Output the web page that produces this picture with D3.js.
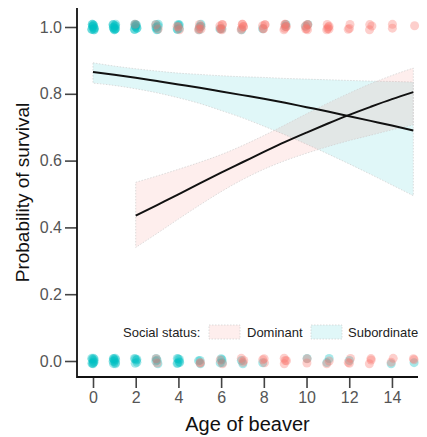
<!DOCTYPE html>
<html>
<head>
<meta charset="utf-8">
<script src="https://cdn.jsdelivr.net/npm/d3@7/dist/d3.min.js"></script>
<style>
  html, body { margin: 0; padding: 0; background: #fff; }
  svg { display: block; font-family: "Liberation Sans", Arial, sans-serif; }
</style>
</head>
<body>
<svg id="chart" width="427" height="437"></svg>
<script>
// Ages on the x axis
const ages = [0, 1, 2, 3, 4, 5, 6, 7, 8, 9, 10, 11, 12, 13, 14, 15];

// Number of beavers observed at each age, by outcome and social status
const survivedSub = [12, 12, 10, 7, 6, 4, 2, 1, 1, 2, 2, 0, 0, 0, 0, 0];
const survivedDom = [0, 0, 1, 2, 3, 5, 6, 6, 5, 6, 6, 6, 3, 3, 2, 1];
const diedSub     = [10, 10, 6, 4, 7, 3, 4, 2, 1, 0, 1, 2, 1, 0, 1, 1];
const diedDom     = [0, 0, 0, 2, 0, 2, 2, 3, 3, 4, 2, 2, 3, 3, 2, 2];

// Fitted survival probability with 95% confidence band, dominant (ages 2-15)
const domAges  = [2, 3, 4, 5, 6, 7, 8, 9, 10, 11, 12, 13, 14, 15];
const domFit   = [0.435, 0.467, 0.499, 0.532, 0.564, 0.595, 0.626, 0.656, 0.684, 0.711, 0.737, 0.761, 0.784, 0.805];
const domLower = [0.340, 0.382, 0.425, 0.467, 0.507, 0.543, 0.574, 0.600, 0.622, 0.642, 0.660, 0.676, 0.692, 0.707];
const domUpper = [0.535, 0.554, 0.574, 0.595, 0.618, 0.645, 0.675, 0.707, 0.740, 0.772, 0.802, 0.830, 0.855, 0.877];

// Fitted survival probability with 95% confidence band, subordinate (ages 0-15)
const subAges  = [0, 1, 2, 3, 4, 5, 6, 7, 8, 9, 10, 11, 12, 13, 14, 15];
const subFit   = [0.865, 0.857, 0.848, 0.838, 0.828, 0.818, 0.807, 0.796, 0.785, 0.773, 0.760, 0.747, 0.733, 0.719, 0.705, 0.690];
const subLower = [0.832, 0.825, 0.815, 0.803, 0.788, 0.771, 0.750, 0.728, 0.703, 0.677, 0.649, 0.620, 0.590, 0.559, 0.527, 0.495];
const subUpper = [0.893, 0.883, 0.875, 0.868, 0.862, 0.858, 0.854, 0.851, 0.849, 0.846, 0.844, 0.842, 0.840, 0.838, 0.837, 0.835];

const xTicks = [0, 2, 4, 6, 8, 10, 12, 14];
const yTicks = [0.0, 0.2, 0.4, 0.6, 0.8, 1.0];
const statusLabels = ["Dominant", "Subordinate"];

const colDom = "#F8766D";
const colSub = "#00BFC4";

const svg = d3.select("#chart");

const x = d3.scaleLinear().domain([0, 15]).range([93, 413.3]);
const y = d3.scaleLinear().domain([0, 1]).range([361, 27]);

const frameLeft = 77, frameRight = 418, frameTop = 8, frameBottom = 377;

// Confidence bands
const area = d3.area()
  .x(d => x(d.age)).y0(d => y(d.lo)).y1(d => y(d.hi))
  .curve(d3.curveMonotoneX);
const line = d3.line()
  .x(d => x(d.age)).y(d => y(d.p))
  .curve(d3.curveMonotoneX);

const subRows = subAges.map((a, i) => ({ age: a, p: subFit[i], lo: subLower[i], hi: subUpper[i] }));
const domRows = domAges.map((a, i) => ({ age: a, p: domFit[i], lo: domLower[i], hi: domUpper[i] }));

const bands = svg.append("g");
[[subRows, colSub], [domRows, colDom]].forEach(([rows, col]) => {
  bands.append("path")
    .datum(rows)
    .attr("d", area)
    .attr("fill", col)
    .attr("fill-opacity", 0.12)
    .attr("stroke", "#cfcfcf")
    .attr("stroke-width", 0.7)
    .attr("stroke-dasharray", "1.5,1.5");
});

[subRows, domRows].forEach(rows => {
  svg.append("path")
    .datum(rows)
    .attr("d", line)
    .attr("fill", "none")
    .attr("stroke", "#111")
    .attr("stroke-width", 2);
});

// Observed outcomes, jittered so overlapping animals stay visible
const points = [];
function addPoints(counts, outcome, col) {
  ages.forEach((a, i) => {
    for (let k = 0; k < counts[i]; k++) {
      points.push({
        age: a, outcome, col,
        dx: 1.3 * Math.sin(k * 2.39996 + a * 1.3 + outcome),
        dy: 2.8 * Math.cos(k * 1.71 + a * 0.9 + (col === colDom ? 1.1 : 0))
      });
    }
  });
}
addPoints(survivedSub, 1, colSub);
addPoints(diedSub, 0, colSub);
addPoints(survivedDom, 1, colDom);
addPoints(diedDom, 0, colDom);

svg.append("g").selectAll("circle")
  .data(points)
  .join("circle")
  .attr("cx", d => x(d.age) + d.dx)
  .attr("cy", d => y(d.outcome) + d.dy)
  .attr("r", 4.5)
  .attr("fill", d => d.col)
  .attr("fill-opacity", 0.35);

// Axes
const xAxis = svg.append("g")
  .attr("transform", `translate(0,${frameBottom})`)
  .call(d3.axisBottom(x).tickValues(xTicks).tickSize(11).tickPadding(4).tickSizeOuter(0));
const yAxis = svg.append("g")
  .attr("transform", `translate(${frameLeft},0)`)
  .call(d3.axisLeft(y).tickValues(yTicks).tickFormat(d3.format(".1f")).tickSize(12).tickPadding(3).tickSizeOuter(0));

[xAxis, yAxis].forEach(g => {
  g.select(".domain").remove();
  g.selectAll(".tick line").attr("stroke", "#444").attr("stroke-width", 1.6);
  g.selectAll(".tick text")
    .attr("fill", "#555")
    .style("font-size", "16px")
    .style("font-family", "'Liberation Sans', Arial, sans-serif");
});

// L-shaped frame
svg.append("path")
  .attr("d", `M${frameLeft},${frameTop}V${frameBottom}H${frameRight}`)
  .attr("fill", "none")
  .attr("stroke", "#111")
  .attr("stroke-width", 1.8);

// Axis titles
svg.append("text")
  .attr("x", (frameLeft + frameRight) / 2)
  .attr("y", 431)
  .attr("text-anchor", "middle")
  .attr("fill", "#111")
  .style("font-size", "20px")
  .text("Age of beaver");

svg.append("text")
  .attr("transform", `translate(29,${(frameTop + frameBottom) / 2}) rotate(-90)`)
  .attr("text-anchor", "middle")
  .attr("fill", "#111")
  .style("font-size", "19px")
  .text("Probability of survival");

// Legend
const legend = svg.append("g").style("font-size", "13px").attr("fill", "#222");
legend.append("text").attr("x", 123).attr("y", 337).text("Social status:");
const keyX = [209, 311];
const labelX = [247, 348];
[colDom, colSub].forEach((col, i) => {
  legend.append("rect")
    .attr("x", keyX[i]).attr("y", 325).attr("width", 31).attr("height", 14)
    .attr("fill", col).attr("fill-opacity", 0.12)
    .attr("stroke", "#cfcfcf").attr("stroke-width", 0.7).attr("stroke-dasharray", "1.5,1.5");
  legend.append("text").attr("x", labelX[i]).attr("y", 337).text(statusLabels[i]);
});
</script>
</body>
</html>
